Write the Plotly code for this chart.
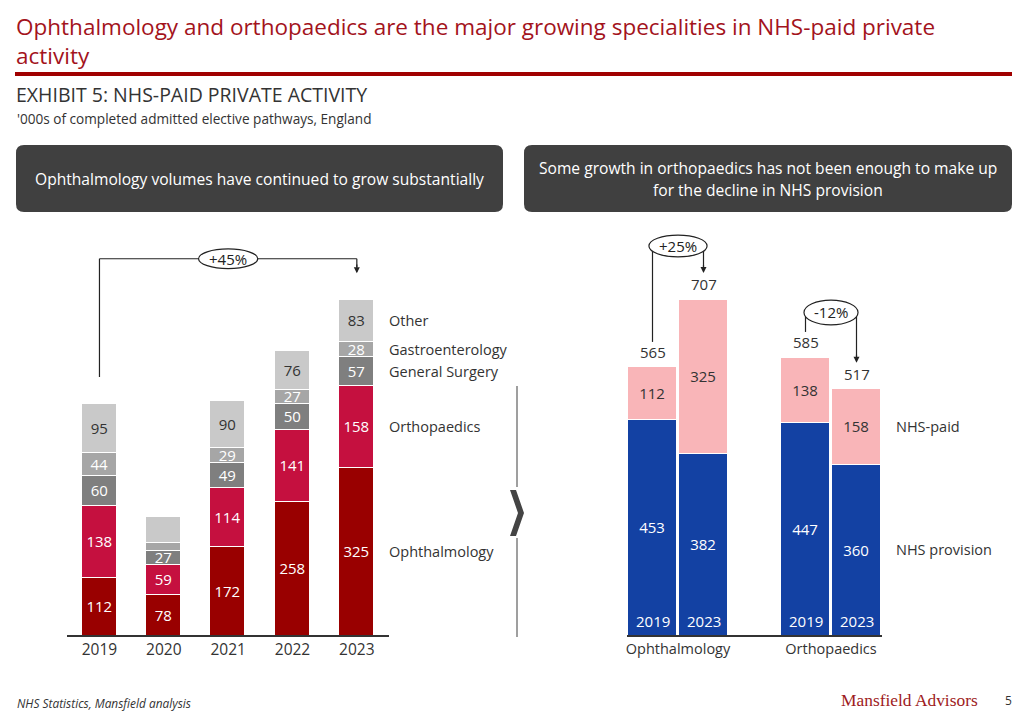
import plotly.graph_objs as go

# ---- data ----
years = ["2019", "2020", "2021", "2022", "2023"]
specialties = ["Ophthalmology", "Orthopaedics", "General Surgery", "Gastroenterology", "Other"]
ophthalmology = [112, 78, 172, 258, 325]
orthopaedics = [138, 59, 114, 141, 158]
general_surgery = [60, 27, 49, 50, 57]
gastroenterology = [44, 16, 29, 27, 28]
other = [95, 49, 90, 76, 83]
left_totals = [450, 229, 456, 552, 651]

groups = ["Ophthalmology", "Orthopaedics"]
group_years = ["2019", "2023"]
nhs_provision = [453, 382, 447, 360]
nhs_paid = [112, 325, 138, 158]
right_totals = [565, 707, 585, 517]

# page has an 8px body margin, so the figure is a bit smaller and shifted
OFF = 8
W, H = 1024 - 2 * OFF, 720 - 2 * OFF
FONT = "Open Sans, Liberation Sans, Arial, sans-serif"
DARK = "#333333"


def px(x):
    return (x - OFF) / W


def py(y):
    return 1 - (y - OFF) / H


def pct(a, b):
    return f"{(b / a - 1) * 100:+.0f}%"


def rounded_box(x0, y0, x1, y1, r, color):
    rx, ry = r / W, r / H
    X0, X1, Y0, Y1 = px(x0), px(x1), py(y1), py(y0)
    path = (f"M {X0 + rx},{Y0} L {X1 - rx},{Y0} Q {X1},{Y0} {X1},{Y0 + ry} "
            f"L {X1},{Y1 - ry} Q {X1},{Y1} {X1 - rx},{Y1} L {X0 + rx},{Y1} "
            f"Q {X0},{Y1} {X0},{Y1 - ry} L {X0},{Y0 + ry} Q {X0},{Y0} {X0 + rx},{Y0} Z")
    return dict(type="path", xref="paper", yref="paper", path=path,
                fillcolor=color, line=dict(width=0), layer="below")


def page_text(x, y, text, size, color=DARK, xanchor="left", family=None):
    font = dict(size=size, color=color)
    if family:
        font["family"] = family
    return dict(x=px(x), y=py(y), xref="paper", yref="paper", xanchor=xanchor,
                yanchor="middle", align="left" if xanchor == "left" else "center",
                showarrow=False, text=text, font=font)


fig = go.Figure()

# ---- left chart: stacked by specialty ----
left_series = [ophthalmology, orthopaedics, general_surgery, gastroenterology, other]
left_colors = ["#990000", "#C5103F", "#7F7F7F", "#A6A6A6", "#C9C9C9"]
left_text_colors = ["white", "white", "white", "white", DARK]
hidden = {("Gastroenterology", "2020"), ("Other", "2020")}

for name, vals, col, tcol in zip(specialties, left_series, left_colors, left_text_colors):
    labels = ["" if (name, yr) in hidden else str(v) for yr, v in zip(years, vals)]
    fig.add_trace(go.Bar(
        x=years, y=vals, name=name, width=0.54,
        marker=dict(color=col, line=dict(color="white", width=1)),
        text=labels, textposition="inside", insidetextanchor="middle", textangle=0,
        textfont=dict(color=tcol, size=15, family=FONT),
        xaxis="x", yaxis="y", showlegend=False, hoverinfo="skip",
    ))

# ---- right chart: NHS provision vs NHS-paid ----
positions = [3 * g + i for g in range(len(groups)) for i in range(len(group_years))]
fig.add_trace(go.Bar(
    x=positions, y=nhs_provision, name="NHS provision", width=0.98,
    marker=dict(color="#1341A3", line=dict(color="white", width=1)),
    text=[str(v) for v in nhs_provision], textposition="inside", insidetextanchor="middle",
    textangle=0, textfont=dict(color="white", size=15, family=FONT),
    xaxis="x2", yaxis="y2", showlegend=False, hoverinfo="skip",
))
fig.add_trace(go.Bar(
    x=positions, y=nhs_paid, name="NHS-paid", width=0.98,
    marker=dict(color="#F9B5B8", line=dict(color="white", width=1)),
    text=[str(v) for v in nhs_paid], textposition="inside", insidetextanchor="middle",
    textangle=0, textfont=dict(color=DARK, size=15, family=FONT),
    xaxis="x2", yaxis="y2", showlegend=False, hoverinfo="skip",
))

annotations = []
shapes = []

# totals above bars
for yr, t in zip(years, left_totals):
    annotations.append(dict(x=yr, y=t, xref="x", yref="y", text=str(t), showarrow=False,
                            yanchor="bottom", yshift=4, font=dict(size=15, color=DARK)))
for p, t in zip(positions, right_totals):
    annotations.append(dict(x=p, y=t, xref="x2", yref="y2", text=str(t), showarrow=False,
                            yanchor="bottom", yshift=3, font=dict(size=15, color=DARK)))

# year labels inside right bars
for p, yr in zip(positions, group_years * len(groups)):
    annotations.append(dict(x=p, y=0, xref="x2", yref="y2", text=yr, showarrow=False,
                            yanchor="bottom", yshift=2, font=dict(size=15, color="white")))

# series labels to the right of the last bar
cum = 0
for name, vals in zip(specialties, left_series):
    mid = cum + vals[-1] / 2
    cum += vals[-1]
    annotations.append(dict(x=4.5, y=mid, xref="x", yref="y", text=name, showarrow=False,
                            xanchor="left", xshift=-2, font=dict(size=14.5, color=DARK)))
cum = 0
for name, vals in [("NHS provision", nhs_provision), ("NHS-paid", nhs_paid)]:
    mid = cum + vals[-1] / 2
    cum += vals[-1]
    annotations.append(dict(x=4.5, y=mid, xref="x2", yref="y2", text=name, showarrow=False,
                            xanchor="left", xshift=12, font=dict(size=14.5, color=DARK)))


def bracket(xa, xb, ya, yb, ytop, hw, hh, label, xr, yr):
    line = dict(color="#222222", width=1.2)
    shapes.append(dict(type="line", xref=xr, yref=yr, x0=xa, x1=xa, y0=ya, y1=ytop, line=line))
    shapes.append(dict(type="line", xref=xr, yref=yr, x0=xa, x1=xb, y0=ytop, y1=ytop, line=line))
    shapes.append(dict(type="line", xref=xr, yref=yr, x0=xb, x1=xb, y0=ytop, y1=yb + 12, line=line))
    xc = (xa + xb) / 2
    shapes.append(dict(type="circle", xref=xr, yref=yr, x0=xc - hw, x1=xc + hw,
                       y0=ytop - hh, y1=ytop + hh, fillcolor="white", line=line))
    annotations.append(dict(x=xb, y=yb, xref=xr, yref=yr, ax=xb, ay=yb + 20,
                            axref=xr, ayref=yr, text="", showarrow=True,
                            arrowhead=2, arrowsize=1, arrowwidth=1.2, arrowcolor="#222222"))
    annotations.append(dict(x=xc, y=ytop, xref=xr, yref=yr, text=label, showarrow=False,
                            font=dict(size=15, color="#222222")))


bracket(0, 4, left_totals[0] + 50, left_totals[-1] + 50, max(left_totals) * 1.12,
        0.46, 19, pct(left_totals[0], left_totals[-1]), "x", "y")
bracket(positions[0], positions[1], right_totals[0] + 52, right_totals[1] + 55,
        max(right_totals[:2]) + 112, 0.57, 23, pct(right_totals[0], right_totals[1]), "x2", "y2")
bracket(positions[2], positions[3], right_totals[2] + 53, right_totals[3] + 56,
        max(right_totals[2:]) + 94, 0.53, 26, pct(right_totals[2], right_totals[3]), "x2", "y2")

# ---- header / boxes / footer ----
annotations += [
    page_text(14, 41, "Ophthalmology and orthopaedics are the major growing specialities in NHS-paid private"
              "<br>activity", 22.5, color="#A3131C"),
    page_text(14, 94, "EXHIBIT 5: NHS-PAID PRIVATE ACTIVITY", 19.5),
    page_text(15, 118, "'000s of completed admitted elective pathways, England", 13.6),
    page_text(259, 179, "Ophthalmology volumes have continued to grow substantially", 15.6,
              color="white", xanchor="center"),
    page_text(768, 168, "Some growth in orthopaedics has not been enough to make up", 15.6,
              color="white", xanchor="center"),
    page_text(768, 190, "for the decline in NHS provision", 15.6,
              color="white", xanchor="center"),
    page_text(15, 703, "<i>NHS Statistics, Mansfield analysis</i>", 11.9),
    page_text(980, 700, "Mansfield Advisors", 17.4, color="#9E1B22", xanchor="right",
              family="Liberation Serif, Times New Roman, serif"),
    page_text(1008, 700, "5", 12, xanchor="center"),
]

shapes += [
    dict(type="line", xref="paper", yref="paper", x0=px(15), x1=px(1012), y0=py(74), y1=py(74),
         line=dict(color="#A00000", width=4)),
    rounded_box(16, 145, 503, 212, 8, "#404040"),
    rounded_box(524, 145, 1012, 212, 8, "#404040"),
    dict(type="line", xref="paper", yref="paper", x0=px(517), x1=px(517), y0=py(386), y1=py(487),
         line=dict(color="#7F7F7F", width=1.5)),
    dict(type="line", xref="paper", yref="paper", x0=px(517), x1=px(517), y0=py(538), y1=py(637),
         line=dict(color="#7F7F7F", width=1.5)),
    dict(type="path", xref="paper", yref="paper", fillcolor="#444444", line=dict(width=0),
         path=(f"M {px(510)},{py(490)} L {px(516)},{py(490)} L {px(524)},{py(513)} "
               f"L {px(516)},{py(536)} L {px(510)},{py(536)} L {px(518)},{py(513)} Z")),
]

fig.update_layout(
    width=W, height=H, margin=dict(l=0, r=0, t=0, b=0),
    paper_bgcolor="white", plot_bgcolor="white",
    barmode="stack", bargap=0,
    font=dict(family=FONT, color=DARK),
    uniformtext=dict(minsize=14, mode="show"),
    annotations=annotations, shapes=shapes,
    xaxis=dict(domain=[px(67.3), px(389)], type="category", categoryorder="array",
               categoryarray=years, range=[-0.5, 4.5], showline=True, linecolor="#333333",
               linewidth=1.5, ticks="", showgrid=False, tickfont=dict(size=15.5, color=DARK),
               fixedrange=True),
    yaxis=dict(domain=[py(635), py(232.5)], range=[0, 780], visible=False, fixedrange=True),
    xaxis2=dict(domain=[px(627), px(882)], range=[-0.5, 4.5], anchor="y2",
                tickvals=[3 * g + 0.5 for g in range(len(groups))], ticktext=groups,
                showline=True, linecolor="#333333", linewidth=1.5, ticks="", showgrid=False,
                zeroline=False, tickfont=dict(size=14.5, color=DARK), fixedrange=True),
    yaxis2=dict(domain=[py(635), py(226.5)], range=[0, 860], visible=False, anchor="x2",
                fixedrange=True),
)

fig.write_html("out.html")
